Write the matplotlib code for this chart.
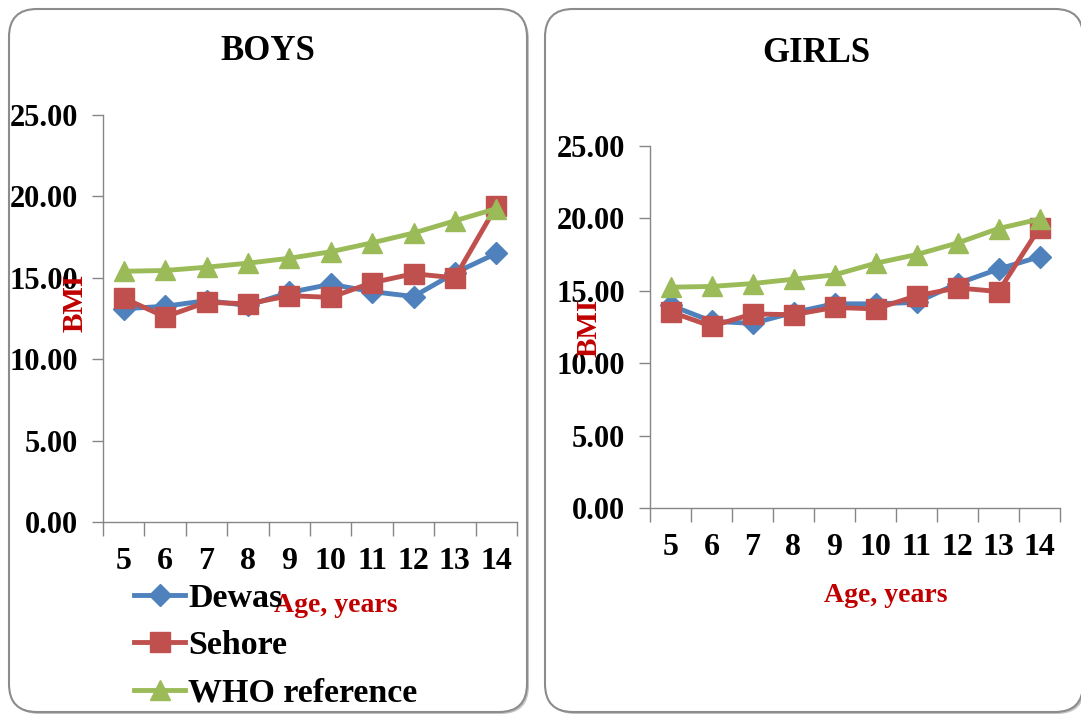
import matplotlib
matplotlib.use("Agg")
import matplotlib.pyplot as plt
from matplotlib.patches import FancyBboxPatch
from matplotlib.transforms import IdentityTransform
from matplotlib.ticker import FormatStrFormatter

# BMI by age, two districts against the WHO reference
ages = [5, 6, 7, 8, 9, 10, 11, 12, 13, 14]

boys_dewas = [13.1, 13.25, 13.6, 13.3, 14.1, 14.6, 14.15, 13.85, 15.3, 16.5]
boys_sehore = [13.75, 12.6, 13.5, 13.4, 13.9, 13.8, 14.7, 15.25, 15.0, 19.4]
boys_who = [15.4, 15.45, 15.65, 15.9, 16.2, 16.6, 17.15, 17.75, 18.5, 19.25]

girls_dewas = [14.0, 12.9, 12.75, 13.5, 14.1, 14.1, 14.2, 15.5, 16.5, 17.35]
girls_sehore = [13.55, 12.55, 13.4, 13.35, 13.85, 13.75, 14.65, 15.2, 14.95, 19.35]
girls_who = [15.25, 15.3, 15.5, 15.8, 16.1, 16.9, 17.5, 18.3, 19.3, 19.95]

series_names = ["Dewas", "Sehore", "WHO reference"]
yticks = [0, 5, 10, 15, 20, 25]

W, H = 1081, 716
plt.rcParams["font.family"] = "Liberation Serif"
plt.rcParams["font.weight"] = "bold"

fig = plt.figure(figsize=(W / 100, H / 100), dpi=100)
fig.patch.set_facecolor("white")

GRAY = "#868686"
RED_TXT = "#C00000"


def px(x, y):
    # pixel position measured from the top-left corner -> figure fraction
    return x / W, 1 - y / H


def panel_box(x0, y0, x1, y1):
    shadow = FancyBboxPatch((x0 + 2, H - y1 - 2), x1 - x0, y1 - y0,
                            boxstyle="round,pad=0,rounding_size=28",
                            transform=IdentityTransform(), fc="#c4c4c4",
                            ec="none", zorder=-3)
    box = FancyBboxPatch((x0, H - y1), x1 - x0, y1 - y0,
                         boxstyle="round,pad=0,rounding_size=28",
                         transform=IdentityTransform(), fc="white",
                         ec="#8c8c8c", lw=1.5, zorder=-2)
    fig.patches.extend([shadow, box])


def draw_panel(ax, dewas, sehore, who):
    ax.set_facecolor("none")
    ax.plot(ages, dewas, color="#4F81BD", marker="D", ms=11, lw=3.5,
            label=series_names[0], clip_on=False)
    ax.plot(ages, sehore, color="#C0504D", marker="s", ms=14, lw=3.5,
            label=series_names[1], clip_on=False)
    ax.plot(ages, who, color="#9BBB59", marker="^", ms=15, lw=3.5,
            label=series_names[2], clip_on=False)
    ax.set_xlim(ages[0] - 0.5, ages[-1] + 0.5)
    ax.set_ylim(yticks[0], yticks[-1])
    ax.set_yticks(yticks)
    ax.yaxis.set_major_formatter(FormatStrFormatter("%.2f"))
    # category boundaries carry the tick marks, centres carry the labels
    ax.set_xticks([a - 0.5 for a in ages] + [ages[-1] + 0.5])
    ax.set_xticklabels([])
    ax.set_xticks(ages, minor=True)
    ax.set_xticklabels([str(a) for a in ages], minor=True)
    ax.tick_params(axis="x", which="major", length=10, width=1, color=GRAY)
    ax.tick_params(axis="x", which="minor", length=0, pad=18, labelsize=23)
    ax.tick_params(axis="y", length=8, width=1, color=GRAY, labelsize=22, pad=10)
    for side in ("top", "right"):
        ax.spines[side].set_visible(False)
    for side in ("left", "bottom"):
        ax.spines[side].set_color(GRAY)
        ax.spines[side].set_linewidth(1)


panel_box(9, 9, 527, 712)
panel_box(545, 9, 1083, 712)

ax_b = fig.add_axes([103 / W, 1 - 522 / H, 414 / W, 407 / H])
draw_panel(ax_b, boys_dewas, boys_sehore, boys_who)

ax_g = fig.add_axes([650 / W, 1 - 508 / H, 410 / W, 362 / H])
draw_panel(ax_g, girls_dewas, girls_sehore, girls_who)

fig.text(*px(268, 52), "BOYS", fontsize=25, ha="center", va="center")
fig.text(*px(816, 53), "GIRLS", fontsize=25, ha="center", va="center")

fig.text(*px(75, 303), "BMI", fontsize=21, color=RED_TXT, rotation=90,
         ha="center", va="center")
fig.text(*px(589, 328), "BMI", fontsize=21, color=RED_TXT, rotation=90,
         ha="center", va="center")

fig.text(*px(336, 605), "Age, years", fontsize=20, color=RED_TXT,
         ha="center", va="center")
fig.text(*px(886, 596), "Age, years", fontsize=20, color=RED_TXT,
         ha="center", va="center")

handles, labels = ax_b.get_legend_handles_labels()
fig.legend(handles, labels, loc="upper left", bbox_to_anchor=px(134, 583),
           frameon=False, fontsize=24.5, handlelength=1.5, handletextpad=0.1,
           labelspacing=0.48, borderpad=0, borderaxespad=0)

fig.savefig("out.png", dpi=100)
